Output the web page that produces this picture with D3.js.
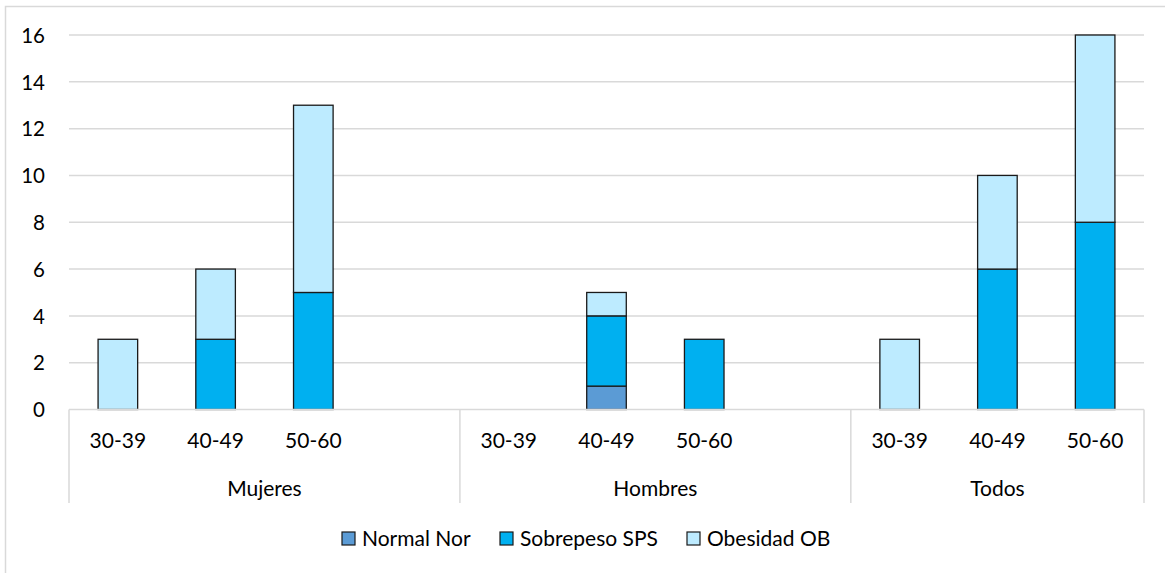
<!DOCTYPE html>
<html><head><meta charset="utf-8">
<script src="https://cdn.jsdelivr.net/npm/d3@7"></script>
<style>body{margin:0;background:#fff}svg{display:block}text{font-family:Lato,"Open Sans",sans-serif;fill:#000}</style>
</head><body><svg id="c" width="1165" height="573"></svg>
<script>
const groups = ["Mujeres","Hombres","Todos"];
const ages = ["30-39","40-49","50-60"];
const groupSlots = [4,4,3];
const seriesNames = ["Normal Nor","Sobrepeso SPS","Obesidad OB"];
const colors = ["#5B9BD5","#00B0F0","#BDEBFF"];
const normal    = [0,0,0, 0,1,0, 0,0,0];
const sobrepeso = [0,3,5, 0,3,3, 0,6,8];
const obesidad  = [3,3,8, 0,1,0, 3,4,8];
const yTicks = [0,2,4,6,8,10,12,14,16];

(function(){
const svg = d3.select("#c");
svg.append("rect").attr("x",5.5).attr("y",6.5).attr("width",1200).attr("height",600)
  .attr("fill","none").attr("stroke","#d9d9d9").attr("stroke-width",1.5);

const pL=69, pR=1144, pT=35, pB=409.5;
const slots=[]; const rows=[];
let k=0;
groups.forEach((g,gi)=>{
  for(let s=0;s<groupSlots[gi];s++){
    const key=g+"|"+s; slots.push(key);
    if(s<ages.length){
      rows.push({key, g, age:ages[s], vals:[normal[k],sobrepeso[k],obesidad[k]]}); k++;
    }
  }
});
const x=d3.scaleBand().domain(slots).range([pL,pR]).padding(0);
const y=d3.scaleLinear().domain([0,16]).range([pB,pT]);

svg.append("g").selectAll("line").data(yTicks.filter(t=>t>0)).join("line")
  .attr("x1",pL).attr("x2",pR).attr("y1",d=>y(d)).attr("y2",d=>y(d))
  .attr("stroke","#d9d9d9").attr("stroke-width",1.5);

const yAxis=d3.axisLeft(y).tickValues(yTicks).tickSize(0).tickPadding(24);
const ya=svg.append("g").attr("transform",`translate(${pL},0)`).call(yAxis);
ya.select(".domain").remove();
ya.selectAll("text").style("font-size","20.5px").style("font-family","Lato").attr("dy","0.35em").attr("fill","#000");

const bw=x.bandwidth()*0.405;
const stackData=rows.map(r=>{let acc=0;return r.vals.map((v,i)=>{const o={key:r.key,i,y0:acc,y1:acc+v};acc+=v;return o;}).filter(o=>o.y1>o.y0);}).flat();
svg.append("g").selectAll("rect").data(stackData).join("rect")
  .attr("x",d=>x(d.key)+x.bandwidth()/2-bw/2).attr("width",bw)
  .attr("y",d=>y(d.y1)).attr("height",d=>y(d.y0)-y(d.y1))
  .attr("fill",d=>colors[d.i]).attr("stroke","#1a1a1a").attr("stroke-width",1.3);

svg.append("line").attr("x1",pL).attr("x2",pR).attr("y1",pB).attr("y2",pB)
  .attr("stroke","#d9d9d9").attr("stroke-width",1.5);
const sepX=[pL]; let idx=0;
groupSlots.forEach(n=>{idx+=n; sepX.push(x(slots[idx-1])+x.bandwidth());});
svg.append("g").selectAll("line").data(sepX).join("line")
  .attr("x1",d=>d).attr("x2",d=>d).attr("y1",pB).attr("y2",503)
  .attr("stroke","#d9d9d9").attr("stroke-width",1.5);
svg.append("g").selectAll("text").data(rows).join("text")
  .attr("x",d=>x(d.key)+x.bandwidth()/2).attr("y",448).attr("text-anchor","middle")
  .style("font-size","21px").text(d=>d.age);
svg.append("g").selectAll("text").data(groups).join("text")
  .attr("x",(d,i)=>(sepX[i]+sepX[i+1])/2).attr("y",496).attr("text-anchor","middle")
  .style("font-size","21px").text(d=>d);

const legX=[342,500,687];
const lg=svg.append("g").selectAll("g").data(seriesNames).join("g")
  .attr("transform",(d,i)=>`translate(${legX[i]},532)`);
lg.append("rect").attr("width",13).attr("height",13).attr("fill",(d,i)=>colors[i]).attr("stroke","#1a1a1a").attr("stroke-width",1.2);
lg.append("text").attr("x",20).attr("y",13.5).style("font-size","21px").text(d=>d);
})();
</script></body></html>
